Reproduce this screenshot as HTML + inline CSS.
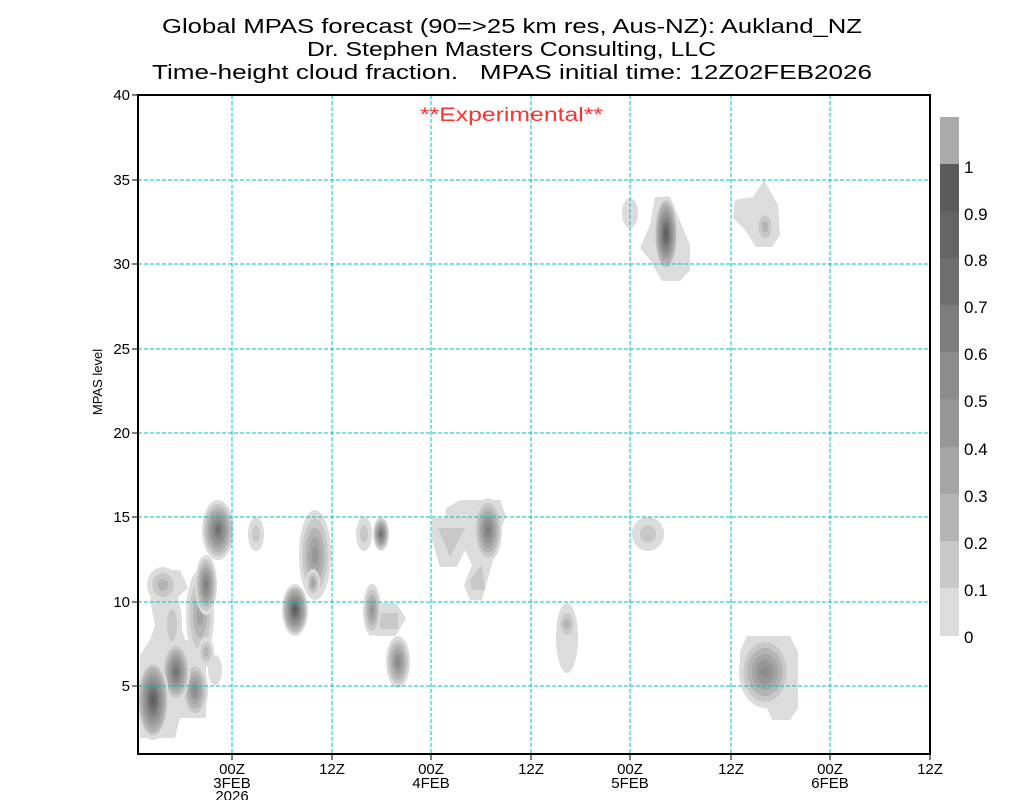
<!DOCTYPE html>
<html><head><meta charset="utf-8"><style>
html,body{margin:0;padding:0;background:#fff;}
svg{display:block;font-family:"Liberation Sans",sans-serif;}
</style></head><body>
<svg width="1024" height="800" viewBox="0 0 1024 800" xmlns="http://www.w3.org/2000/svg">
<defs>
<radialGradient id="g1"><stop offset="0" stop-color="#c8c8c8"/><stop offset=".5" stop-color="#c8c8c8"/><stop offset=".5" stop-color="#dcdcdc"/><stop offset="1" stop-color="#dcdcdc"/></radialGradient>
<radialGradient id="g2"><stop offset="0" stop-color="#b4b4b4"/><stop offset=".33" stop-color="#b4b4b4"/><stop offset=".33" stop-color="#c8c8c8"/><stop offset=".67" stop-color="#c8c8c8"/><stop offset=".67" stop-color="#dcdcdc"/><stop offset="1" stop-color="#dcdcdc"/></radialGradient>
<radialGradient id="g3"><stop offset="0" stop-color="#a5a5a5"/><stop offset=".25" stop-color="#a5a5a5"/><stop offset=".25" stop-color="#b4b4b4"/><stop offset=".5" stop-color="#b4b4b4"/><stop offset=".5" stop-color="#c8c8c8"/><stop offset=".75" stop-color="#c8c8c8"/><stop offset=".75" stop-color="#dcdcdc"/><stop offset="1" stop-color="#dcdcdc"/></radialGradient>
<radialGradient id="g4"><stop offset="0" stop-color="#969696"/><stop offset=".2" stop-color="#969696"/><stop offset=".2" stop-color="#a5a5a5"/><stop offset=".4" stop-color="#a5a5a5"/><stop offset=".4" stop-color="#b4b4b4"/><stop offset=".6" stop-color="#b4b4b4"/><stop offset=".6" stop-color="#c8c8c8"/><stop offset=".8" stop-color="#c8c8c8"/><stop offset=".8" stop-color="#dcdcdc"/><stop offset="1" stop-color="#dcdcdc"/></radialGradient>
<radialGradient id="g5"><stop offset="0" stop-color="#8c8c8c"/><stop offset=".17" stop-color="#8c8c8c"/><stop offset=".17" stop-color="#969696"/><stop offset=".33" stop-color="#969696"/><stop offset=".33" stop-color="#a5a5a5"/><stop offset=".5" stop-color="#a5a5a5"/><stop offset=".5" stop-color="#b4b4b4"/><stop offset=".67" stop-color="#b4b4b4"/><stop offset=".67" stop-color="#c8c8c8"/><stop offset=".83" stop-color="#c8c8c8"/><stop offset=".83" stop-color="#dcdcdc"/><stop offset="1" stop-color="#dcdcdc"/></radialGradient>
<radialGradient id="g6"><stop offset="0" stop-color="#7d7d7d"/><stop offset=".14" stop-color="#7d7d7d"/><stop offset=".14" stop-color="#8c8c8c"/><stop offset=".29" stop-color="#8c8c8c"/><stop offset=".29" stop-color="#969696"/><stop offset=".43" stop-color="#969696"/><stop offset=".43" stop-color="#a5a5a5"/><stop offset=".57" stop-color="#a5a5a5"/><stop offset=".57" stop-color="#b4b4b4"/><stop offset=".71" stop-color="#b4b4b4"/><stop offset=".71" stop-color="#c8c8c8"/><stop offset=".86" stop-color="#c8c8c8"/><stop offset=".86" stop-color="#dcdcdc"/><stop offset="1" stop-color="#dcdcdc"/></radialGradient>
<radialGradient id="g7"><stop offset="0" stop-color="#6e6e6e"/><stop offset=".125" stop-color="#6e6e6e"/><stop offset=".125" stop-color="#7d7d7d"/><stop offset=".25" stop-color="#7d7d7d"/><stop offset=".25" stop-color="#8c8c8c"/><stop offset=".375" stop-color="#8c8c8c"/><stop offset=".375" stop-color="#969696"/><stop offset=".5" stop-color="#969696"/><stop offset=".5" stop-color="#a5a5a5"/><stop offset=".625" stop-color="#a5a5a5"/><stop offset=".625" stop-color="#b4b4b4"/><stop offset=".75" stop-color="#b4b4b4"/><stop offset=".75" stop-color="#c8c8c8"/><stop offset=".875" stop-color="#c8c8c8"/><stop offset=".875" stop-color="#dcdcdc"/><stop offset="1" stop-color="#dcdcdc"/></radialGradient>
<radialGradient id="g8"><stop offset="0" stop-color="#5a5a5a"/><stop offset=".11" stop-color="#646464"/><stop offset=".22" stop-color="#6e6e6e"/><stop offset=".33" stop-color="#7d7d7d"/><stop offset=".44" stop-color="#8c8c8c"/><stop offset=".55" stop-color="#969696"/><stop offset=".66" stop-color="#a5a5a5"/><stop offset=".77" stop-color="#b4b4b4"/><stop offset=".88" stop-color="#c8c8c8"/><stop offset=".89" stop-color="#dcdcdc"/><stop offset="1" stop-color="#dcdcdc"/></radialGradient>
</defs>

<g>
<polygon points="140,655 150,640 160,610 172,595 185,640 200,642 206,655 206,718 180,718 175,738 140,738" fill="#dcdcdc"/>
<polygon points="155,588 165,570 180,570 188,588 175,600 172,650 160,650 150,600" fill="#dcdcdc"/>
<ellipse cx="163" cy="585" rx="16" ry="18" fill="url(#g2)"/>
<ellipse cx="172" cy="625" rx="10" ry="32" fill="url(#g1)"/>
<ellipse cx="200" cy="615" rx="14" ry="45" fill="url(#g3)"/>
<ellipse cx="206" cy="585" rx="11" ry="30" fill="url(#g6)"/>
<ellipse cx="206" cy="652" rx="8" ry="15" fill="url(#g2)"/>
<ellipse cx="215" cy="670" rx="7" ry="15" fill="#dcdcdc"/>
<ellipse cx="195" cy="690" rx="13" ry="28" fill="url(#g5)"/>
<ellipse cx="176" cy="672" rx="14" ry="30" fill="url(#g7)"/>
<ellipse cx="153" cy="700" rx="16" ry="40" fill="url(#g8)"/>
<ellipse cx="218" cy="530" rx="16" ry="30" fill="url(#g7)"/>
<ellipse cx="256" cy="534" rx="8" ry="17" fill="url(#g1)"/>
<ellipse cx="295" cy="610" rx="13" ry="26" fill="url(#g8)"/>
<ellipse cx="315" cy="555" rx="16" ry="45" fill="url(#g4)"/>
<ellipse cx="313" cy="583" rx="7" ry="14" fill="url(#g3)"/>
<ellipse cx="364" cy="534" rx="8" ry="17" fill="url(#g1)"/>
<ellipse cx="381" cy="534" rx="8" ry="17" fill="url(#g7)"/>
<polygon points="375,603 396,603 406,618 396,636 375,636" fill="#dcdcdc"/>
<rect x="380" y="613" width="18" height="16" fill="#c8c8c8"/>
<ellipse cx="372" cy="610" rx="9" ry="26" fill="url(#g4)"/>
<ellipse cx="398" cy="662" rx="12" ry="26" fill="url(#g5)"/>
<polygon points="432,518 445,518 446,508 460,500 500,500 506,516 497,540 493,560 482,600 470,600 464,585 472,565 465,550 457,567 440,567 432,540" fill="#dcdcdc"/>
<polygon points="438,528 465,528 450,557" fill="#c8c8c8"/>
<polygon points="470,580 482,565 485,590 472,590" fill="#c8c8c8"/>
<ellipse cx="488" cy="530" rx="14" ry="32" fill="url(#g6)"/>
<ellipse cx="567" cy="638" rx="11" ry="35" fill="#dcdcdc"/>
<ellipse cx="567" cy="624" rx="10" ry="16" fill="url(#g2)"/>
<ellipse cx="648" cy="534" rx="16" ry="17" fill="url(#g1)"/>
<ellipse cx="630" cy="213" rx="8" ry="15" fill="#dcdcdc"/>
<polygon points="655,197 670,197 690,245 690,270 680,281 662,281 650,260 640,248 650,225" fill="#dcdcdc"/>
<ellipse cx="666" cy="234" rx="12" ry="38" fill="url(#g8)"/>
<polygon points="735,200 753,197 764,180 778,205 780,235 772,247 756,247 745,230 733,218" fill="#dcdcdc"/>
<ellipse cx="765" cy="227" rx="10" ry="17" fill="url(#g2)"/>
<polygon points="747,636 790,636 798,652 798,708 790,720 772,720 760,692 740,680 740,652" fill="#dcdcdc"/>
<ellipse cx="765" cy="672" rx="26" ry="36" fill="url(#g5)"/>
</g>

<g stroke="#00c0c0" stroke-width="1" stroke-dasharray="4,2">
<line x1="232" y1="95" x2="232" y2="754"/><line x1="332" y1="95" x2="332" y2="754"/>
<line x1="431" y1="95" x2="431" y2="754"/><line x1="531" y1="95" x2="531" y2="754"/>
<line x1="630" y1="95" x2="630" y2="754"/><line x1="731" y1="95" x2="731" y2="754"/>
<line x1="830" y1="95" x2="830" y2="754"/>
<line x1="138" y1="180" x2="930" y2="180"/><line x1="138" y1="264" x2="930" y2="264"/>
<line x1="138" y1="349" x2="930" y2="349"/><line x1="138" y1="433" x2="930" y2="433"/>
<line x1="138" y1="517" x2="930" y2="517"/><line x1="138" y1="602" x2="930" y2="602"/>
<line x1="138" y1="686" x2="930" y2="686"/>
</g>

<rect x="138" y="95" width="792" height="659" fill="none" stroke="#000" stroke-width="2"/>
<g stroke="#000" stroke-width="1">
<line x1="132" y1="95" x2="138" y2="95"/><line x1="132" y1="180" x2="138" y2="180"/>
<line x1="132" y1="264" x2="138" y2="264"/><line x1="132" y1="349" x2="138" y2="349"/>
<line x1="132" y1="433" x2="138" y2="433"/><line x1="132" y1="517" x2="138" y2="517"/>
<line x1="132" y1="602" x2="138" y2="602"/><line x1="132" y1="686" x2="138" y2="686"/>
<line x1="232" y1="754" x2="232" y2="760"/><line x1="332" y1="754" x2="332" y2="760"/>
<line x1="431" y1="754" x2="431" y2="760"/><line x1="531" y1="754" x2="531" y2="760"/>
<line x1="630" y1="754" x2="630" y2="760"/><line x1="731" y1="754" x2="731" y2="760"/>
<line x1="830" y1="754" x2="830" y2="760"/><line x1="930" y1="754" x2="930" y2="760"/>
</g>

<g font-size="15" fill="#000" text-anchor="end">
<text x="130" y="100">40</text><text x="130" y="185">35</text><text x="130" y="269">30</text>
<text x="130" y="354">25</text><text x="130" y="438">20</text><text x="130" y="522">15</text>
<text x="130" y="607">10</text><text x="130" y="691">5</text>
</g>
<g font-size="15" fill="#000" text-anchor="middle">
<text x="232" y="774">00Z</text><text x="232" y="788">3FEB</text><text x="232" y="801">2026</text>
<text x="332" y="774">12Z</text>
<text x="431" y="774">00Z</text><text x="431" y="788">4FEB</text>
<text x="531" y="774">12Z</text>
<text x="630" y="774">00Z</text><text x="630" y="788">5FEB</text>
<text x="731" y="774">12Z</text>
<text x="830" y="774">00Z</text><text x="830" y="788">6FEB</text>
<text x="930" y="774">12Z</text>
</g>
<text x="102" y="382" font-size="13" text-anchor="middle" transform="rotate(-90 102 382)">MPAS level</text>

<g font-size="20" fill="#000">
<text x="162" y="33" textLength="700" lengthAdjust="spacingAndGlyphs">Global MPAS forecast (90=&gt;25 km res, Aus-NZ): Aukland_NZ</text>
<text x="307" y="56" textLength="409" lengthAdjust="spacingAndGlyphs">Dr. Stephen Masters Consulting, LLC</text>
<text x="152" y="79" textLength="720" lengthAdjust="spacingAndGlyphs" xml:space="preserve">Time-height cloud fraction.   MPAS initial time: 12Z02FEB2026</text>
</g>
<text x="420" y="121" font-size="19" fill="#ff3030" textLength="183" lengthAdjust="spacingAndGlyphs">**Experimental**</text>

<g>
<rect x="940" y="117" width="19" height="47" fill="#aaaaaa"/>
<rect x="940" y="164" width="19" height="47" fill="#5a5a5a"/>
<rect x="940" y="211" width="19" height="47" fill="#646464"/>
<rect x="940" y="258" width="19" height="47" fill="#6e6e6e"/>
<rect x="940" y="305" width="19" height="47" fill="#7d7d7d"/>
<rect x="940" y="352" width="19" height="47" fill="#8c8c8c"/>
<rect x="940" y="399" width="19" height="48" fill="#969696"/>
<rect x="940" y="447" width="19" height="47" fill="#a5a5a5"/>
<rect x="940" y="494" width="19" height="47" fill="#b4b4b4"/>
<rect x="940" y="541" width="19" height="47" fill="#c8c8c8"/>
<rect x="940" y="588" width="19" height="48" fill="#dcdcdc"/>
</g>
<g font-size="17" fill="#000">
<text x="964" y="173">1</text><text x="964" y="220">0.9</text><text x="964" y="266">0.8</text>
<text x="964" y="313">0.7</text><text x="964" y="360">0.6</text><text x="964" y="407">0.5</text>
<text x="964" y="455">0.4</text><text x="964" y="502">0.3</text><text x="964" y="549">0.2</text>
<text x="964" y="596">0.1</text><text x="964" y="643">0</text>
</g>
</svg>
</body></html>
